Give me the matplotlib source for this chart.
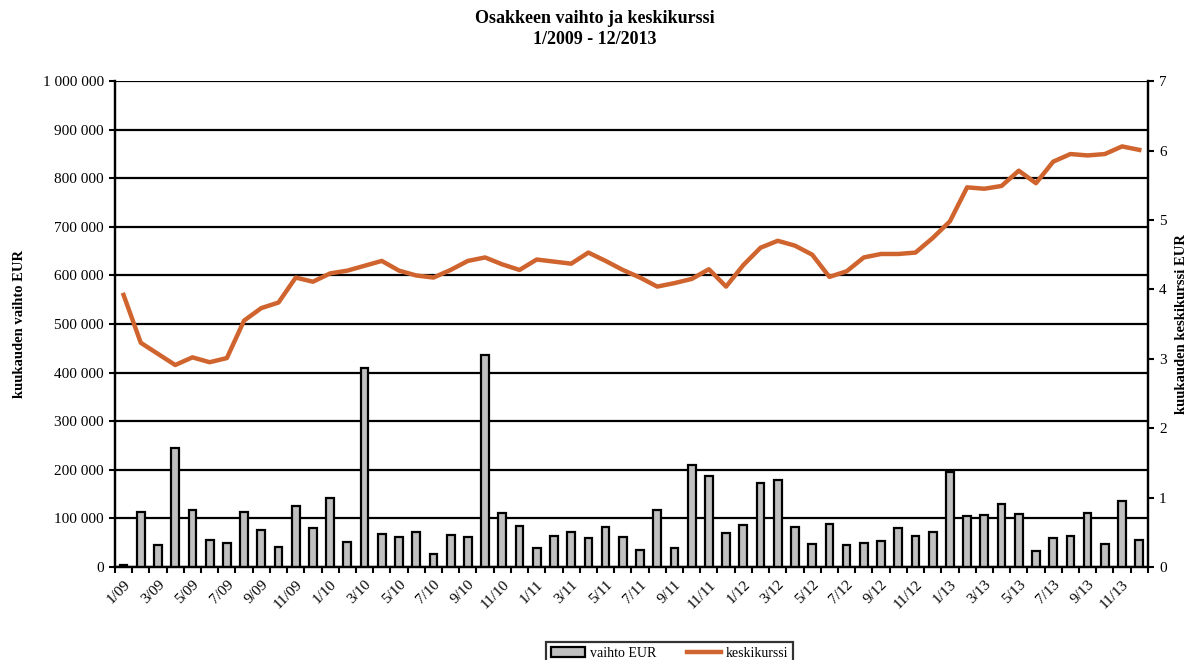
import numpy as np
import matplotlib
matplotlib.use('Agg')
import matplotlib.pyplot as plt
from matplotlib.ticker import FuncFormatter

# monthly turnover (EUR) and average price, 1/2009 - 12/2013
months = [f"{m}/{y:02d}" for y in range(9, 14) for m in range(1, 13)]

vaihto_eur = [
    3000, 114000, 46000, 244000, 117000, 56000, 50000, 114000, 76000, 41000, 126000, 80000,
    141000, 51000, 409000, 68000, 61000, 72000, 26000, 65000, 61000, 437000, 112000, 84000,
    39000, 63000, 72000, 59000, 83000, 61000, 34000, 118000, 39000, 209000, 188000, 69000,
    87000, 173000, 179000, 82000, 47000, 88000, 46000, 50000, 53000, 80000, 64000, 71000,
    196000, 105000, 106000, 130000, 109000, 32000, 59000, 64000, 112000, 47000, 136000, 55000,
]

keskikurssi = [
    3.92, 3.23, 3.07, 2.91, 3.02, 2.95, 3.01, 3.55, 3.73, 3.81, 4.17, 4.11,
    4.23, 4.27, 4.34, 4.41, 4.27, 4.20, 4.17, 4.28, 4.41, 4.46, 4.36, 4.28,
    4.43, 4.40, 4.37, 4.53, 4.41, 4.28, 4.17, 4.04, 4.09, 4.15, 4.29, 4.04,
    4.35, 4.60, 4.70, 4.63, 4.50, 4.18, 4.26, 4.46, 4.51, 4.51, 4.53, 4.74,
    4.98, 5.47, 5.45, 5.49, 5.71, 5.53, 5.84, 5.95, 5.93, 5.95, 6.06, 6.01,
]

line_color = '#D0642E'
bar_color = '#C0C0C0'
serif = ['Liberation Serif', 'DejaVu Serif']

plt.rcParams['font.family'] = serif

fig = plt.figure(figsize=(11.9, 6.6), dpi=100)
ax = fig.add_axes([0.0966, 0.141, 0.868, 0.736])
ax2 = ax.twinx()

x = np.arange(len(months))

ax.bar(x, vaihto_eur, width=0.45, color=bar_color, edgecolor='black',
       linewidth=1.6, zorder=3, label='vaihto EUR')
ax.set_ylim(0, 1000000)
ax.set_xlim(-0.5, len(months) - 0.5)
ax.set_yticks(np.arange(0, 1000001, 100000))
ax.yaxis.set_major_formatter(FuncFormatter(lambda v, p: f"{int(v):,}".replace(",", " ")))
ax.grid(axis='y', color='black', linewidth=1.6, zorder=0)
ax.set_axisbelow(True)

# month labels every second month, boundary ticks for every month
ax.set_xticks(x[::2])
ax.set_xticklabels(months[::2], rotation=45, ha='right', va='top', rotation_mode='anchor')
ax.set_xticks(np.arange(-0.5, len(months)), minor=True)
ax.tick_params(axis='x', which='major', length=0, pad=8, labelsize=11)
ax.tick_params(axis='x', which='minor', length=4, width=1.5, direction='out')
ax.tick_params(axis='y', length=4, width=1.5, labelsize=11, pad=4)

ax2.plot(x, keskikurssi, color=line_color, linewidth=3.2, zorder=4, label='keskikurssi')
ax2.set_ylim(0, 7)
ax2.set_yticks(range(0, 8))
ax2.tick_params(axis='y', length=4, width=1.5, labelsize=11, pad=4)

for a in (ax, ax2):
    a.spines['top'].set_visible(False)
    for s in ('left', 'right', 'bottom'):
        a.spines[s].set_linewidth(1.6)

ax.set_ylabel('kuukauden vaihto EUR', fontweight='bold', fontsize=10.5, labelpad=12)
ax2.set_ylabel('kuukauden keskikurssi EUR', fontweight='bold', fontsize=10.5, labelpad=6)

fig.suptitle('Osakkeen vaihto ja keskikurssi\n1/2009 - 12/2013', fontweight='bold',
             fontsize=13, y=0.985, linespacing=1.3)

h1, l1 = ax.get_legend_handles_labels()
h2, l2 = ax2.get_legend_handles_labels()
leg = fig.legend(h1 + h2, l1 + l2, loc='upper center', bbox_to_anchor=(0.5625, 0.038),
                 ncol=2, frameon=True, fancybox=False, edgecolor='black', fontsize=10,
                 handlelength=2.5, handletextpad=0.3, columnspacing=2.2, borderpad=0.35)
leg.get_frame().set_linewidth(1.6)

fig.savefig('out.png', dpi=100)
